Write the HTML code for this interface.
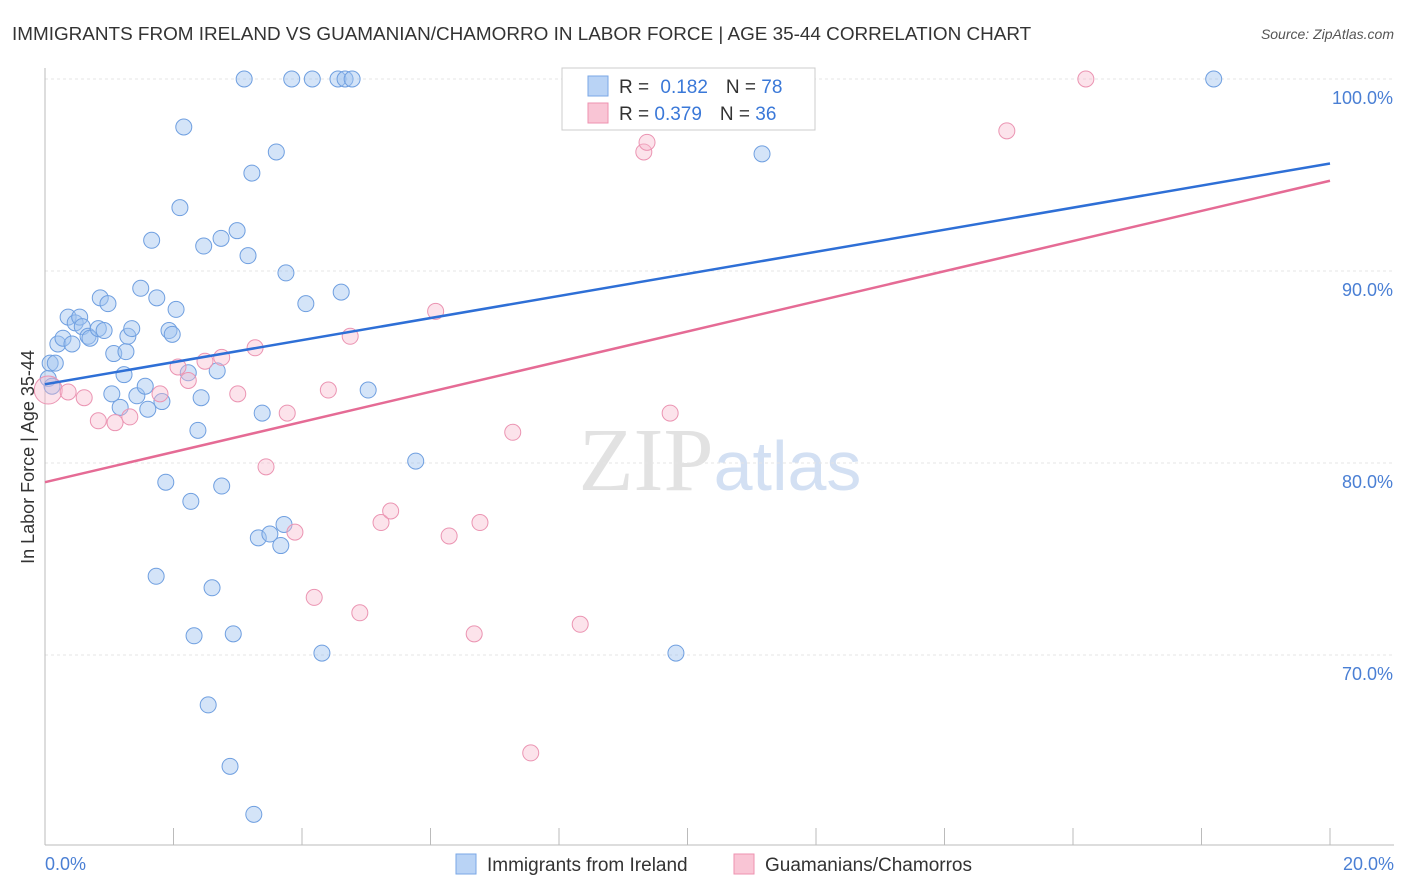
<!DOCTYPE html>
<html><head><meta charset="utf-8"><style>
body{margin:0;background:#fff;font-family:"Liberation Sans",sans-serif;}
svg{display:block}
</style></head><body>
<svg id="chart" width="1406" height="892">
<text x="12" y="40" font-size="18.9" fill="#333">IMMIGRANTS FROM IRELAND VS GUAMANIAN/CHAMORRO IN LABOR FORCE | AGE 35-44 CORRELATION CHART</text>
<text x="1394" y="39" font-size="14" fill="#555" font-style="italic" text-anchor="end">Source: ZipAtlas.com</text>
<text x="720" y="490" font-size="90" fill="#e2e2e2" text-anchor="middle" font-family="Liberation Serif">ZIP<tspan fill="#d3e0f3" font-family="Liberation Sans" font-size="70">atlas</tspan></text>
<g id="grid"></g><g id="axes"></g><g id="pts"></g><g id="lines"></g>
<text transform="translate(34,457) rotate(-90)" font-size="18" fill="#333" text-anchor="middle">In Labor Force | Age 35-44</text>
<text x="45" y="870" font-size="18" fill="#4a7fd4">0.0%</text>
<text x="1394" y="870" font-size="18" fill="#4a7fd4" text-anchor="end">20.0%</text>
<g>
<rect x="562" y="68" width="253" height="62" fill="#fff" stroke="#ccc"/>
<rect x="588" y="76" width="20" height="20" fill="#b9d3f5" stroke="#7aa7e6"/>
<rect x="588" y="103" width="20" height="20" fill="#f9c5d5" stroke="#ee92b0"/>
<text x="619" y="93" font-size="19" fill="#333">R = <tspan fill="#3a78d8" dx="6">0.182</tspan><tspan fill="#333" dx="18">N = </tspan><tspan fill="#3a78d8">78</tspan></text>
<text x="619" y="120" font-size="19" fill="#333">R = <tspan fill="#3a78d8">0.379</tspan><tspan fill="#333" dx="18">N = </tspan><tspan fill="#3a78d8">36</tspan></text>
</g>
<g>
<rect x="456" y="854" width="20" height="20" fill="#b9d3f5" stroke="#7aa7e6"/>
<text x="487" y="871" font-size="19" fill="#333">Immigrants from Ireland</text>
<rect x="734" y="854" width="20" height="20" fill="#f9c5d5" stroke="#ee92b0"/>
<text x="765" y="871" font-size="19" fill="#333">Guamanians/Chamorros</text>
</g>
</svg>
<script>
const yTicks=[100,90,80,70];
const yTickLabels=["100.0%","90.0%","80.0%","70.0%"];
const blueX=[0.05,0.08,0.16,0.11,0.2,0.28,0.36,0.42,0.47,0.54,0.58,0.67,0.7,0.83,0.86,0.92,0.98,1.07,1.17,1.23,1.26,1.29,1.35,1.43,1.49,1.56,1.6,1.66,1.73,1.74,1.82,1.88,1.93,1.98,2.04,2.1,2.16,2.23,2.27,2.32,2.38,2.43,2.47,2.54,2.6,2.68,2.74,2.75,2.88,2.93,2.99,3.1,3.16,3.22,3.25,3.32,3.38,3.5,3.6,3.67,3.72,3.75,3.84,4.06,4.16,4.31,4.56,4.61,4.67,4.78,5.03,5.77,8.25,9.82,11.16,18.19,1.04];
const blueY=[84.4,85.2,85.2,84.0,86.2,86.5,87.6,86.2,87.3,87.6,87.1,86.6,86.5,87.0,88.6,86.9,88.3,85.7,82.9,84.6,85.8,86.6,87.0,83.5,89.1,84.0,82.8,91.6,74.1,88.6,83.2,79.0,86.9,86.7,88.0,93.3,97.5,84.7,78.0,71.0,81.7,83.4,91.3,67.4,73.5,84.8,91.7,78.8,64.2,71.1,92.1,100,90.8,95.1,61.7,76.1,82.6,76.3,96.2,75.7,76.8,89.9,100,88.3,100,70.1,100,88.9,100,100,83.8,80.1,100,70.1,96.1,100,83.6];
const pinkX=[0.05,0.36,0.61,0.83,1.09,1.32,1.79,2.07,2.23,2.49,2.75,3.0,3.27,3.44,3.77,3.89,4.19,4.41,4.75,4.9,5.23,5.38,6.08,6.29,6.68,6.77,7.28,7.56,8.33,9.32,9.37,9.73,10.75,14.97,16.2];
const pinkY=[83.8,83.7,83.4,82.2,82.1,82.4,83.6,85.0,84.3,85.3,85.5,83.6,86.0,79.8,82.6,76.4,73.0,83.8,86.6,72.2,76.9,77.5,87.9,76.2,71.1,76.9,81.6,64.9,71.6,96.2,96.7,82.6,100,97.3,100];
const X=v=>45+v*64.25, Y=v=>79+(100-v)*19.2;
const NS="http://www.w3.org/2000/svg";
function mk(t,a,p){const e=document.createElementNS(NS,t);for(const k in a)e.setAttribute(k,a[k]);document.getElementById(p).appendChild(e);return e;}
yTicks.forEach((t,i)=>{
 const l=mk('line',{x1:45,x2:1394,y1:Y(t),y2:Y(t),stroke:'#e4e4e4','stroke-dasharray':'3,3'},'grid');
 
 
 const tx=mk('text',{x:1393,y:Y(t)+25,'font-size':18,fill:'#4a7fd4','text-anchor':'end'},'grid');tx.textContent=yTickLabels[i];
 
 
});
mk('line',{x1:45,x2:45,y1:68,y2:845,stroke:'#bbb'},'axes');
mk('line',{x1:45,x2:1394,y1:845,y2:845,stroke:'#bbb'},'axes');
for(let i=0;i<=10;i++){const t=mk('line',{x1:X(i*2),x2:X(i*2),y1:828,y2:845,stroke:'#bbb'},'axes');
 
 }
blueX.forEach((v,i)=>{const c=mk('circle',{cx:X(v),cy:Y(blueY[i]),r:8,fill:'rgba(160,195,240,0.45)',stroke:'#6f9fe0','stroke-width':1},'pts');
 
 });
pinkX.forEach((v,i)=>{const c=mk('circle',{cx:X(v),cy:Y(pinkY[i]),r:i==0?14:8,fill:'rgba(248,185,205,0.4)',stroke:'#eb94b2','stroke-width':1},'pts');
 
 });
const blueLine=[84.1,95.6], pinkLine=[79.0,94.7];
const b=mk('line',{x1:X(0),y1:Y(blueLine[0]),x2:X(20),y2:Y(blueLine[1]),stroke:'#2e6fd6','stroke-width':2.5},'lines');


const p=mk('line',{x1:X(0),y1:Y(pinkLine[0]),x2:X(20),y2:Y(pinkLine[1]),stroke:'#e56b95','stroke-width':2.5},'lines');


</script>
</body></html>
